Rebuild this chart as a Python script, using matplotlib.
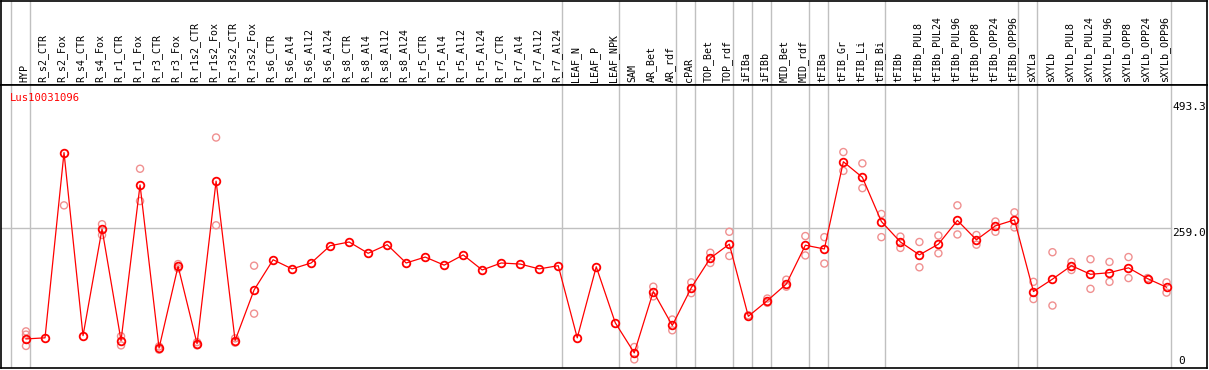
import matplotlib
matplotlib.use('Agg')
import matplotlib.pyplot as plt

gene = "Lus10031096"

samples = ["HYP", "R_s2_CTR", "R_s2_Fox", "R_s4_CTR", "R_s4_Fox", "R_r1_CTR", "R_r1_Fox",
           "R_r3_CTR", "R_r3_Fox", "R_r1s2_CTR", "R_r1s2_Fox", "R_r3s2_CTR", "R_r3s2_Fox",
           "R_s6_CTR", "R_s6_Al4", "R_s6_Al12", "R_s6_Al24", "R_s8_CTR", "R_s8_Al4",
           "R_s8_Al12", "R_s8_Al24", "R_r5_CTR", "R_r5_Al4", "R_r5_Al12", "R_r5_Al24",
           "R_r7_CTR", "R_r7_Al4", "R_r7_Al12", "R_r7_Al24", "LEAF_N", "LEAF_P", "LEAF_NPK",
           "SAM", "AR_Bet", "AR_rdf", "cPAR", "TOP_Bet", "TOP_rdf", "iFIBa", "iFIBb",
           "MID_Bet", "MID_rdf", "tFIBa", "tFIB_Gr", "tFIB_Li", "tFIB_Bi", "tFIBb",
           "tFIBb_PUL8", "tFIBb_PUL24", "tFIBb_PUL96", "tFIBb_OPP8", "tFIBb_OPP24",
           "tFIBb_OPP96", "sXYLa", "sXYLb", "sXYLb_PUL8", "sXYLb_PUL24", "sXYLb_PUL96",
           "sXYLb_OPP8", "sXYLb_OPP24", "sXYLb_OPP96"]

means = [53, 55, 399, 59, 257, 50, 339, 36, 188, 44, 346, 50, 144,
         200, 183, 194, 226, 233, 212, 228, 194, 205, 190, 209, 181,
         194, 192, 183, 189, 55, 187, 83, 27, 141, 78, 148, 203, 229,
         95, 124, 155, 227, 220, 382, 353, 271, 233, 209, 229, 273,
         237, 263, 274, 141, 164, 189, 173, 176, 185, 165, 149]

# replicate values: (sample index, value)
rep_idx = [0, 0, 0, 2, 4, 4, 5, 5, 6, 6, 7, 7, 8, 8, 9, 9, 10, 10, 11, 11, 12, 12,
           32, 32, 33, 33, 34, 34, 35, 35, 36, 36, 37, 37, 38, 39, 39, 40, 40,
           41, 41, 42, 42, 43, 43, 44, 44, 45, 45, 46, 46, 47, 47, 48, 48,
           49, 49, 50, 50, 51, 51, 52, 52, 53, 53, 54, 54, 55, 55, 56, 56,
           57, 57, 58, 58, 59, 60, 60]
rep_val = [67, 61, 40, 301, 266, 246, 58, 41, 369, 309, 39, 33, 192, 184, 47, 41, 427, 264, 54, 46, 189, 100,
           38, 15, 150, 132, 89, 69, 158, 138, 213, 194, 252, 207, 97, 128, 120, 163, 150,
           244, 208, 242, 193, 400, 365, 379, 333, 285, 242, 243, 222, 233, 186, 245, 212,
           301, 247, 246, 228, 271, 252, 288, 260, 159, 127, 214, 115, 196, 181, 201, 146,
           196, 159, 205, 166, 166, 158, 139]

group_ends = [-1, 0, 28, 31, 34, 35, 37, 38, 39, 41, 42, 45, 52, 53, 60]
y_ticks = [0, 259.0, 493.3]

grid_c = '#c0c0c0'
mono = 'DejaVu Sans Mono'
W, H = 1209, 370
x = list(range(len(samples)))
xlim = (-1.315, 62.13)

fig = plt.figure(figsize=(W / 100, H / 100), dpi=100)
head = fig.add_axes([1 / W, (H - 85) / H, 1206 / W, 84.5 / H])
ax = fig.add_axes([1 / W, 2 / H, 1206 / W, 283 / H])

for a in (head, ax):
    a.set_xlim(*xlim)
    a.set_xticks([])
    a.set_yticks([])
    for s in a.spines.values():
        s.set_linewidth(1.2)
        s.set_color('black')
    for g in group_ends:
        a.axvline(g + 0.21, color=grid_c, lw=1.0, zorder=0)

head.set_ylim(0, 1)
for xi, lab in zip(x, samples):
    head.text(xi - 0.1, 0.03, lab, rotation=90, ha='center', va='bottom',
              family=mono, fontsize=7.2)

ax.set_ylim(-1, 524.5)
ax.axhline(y_ticks[1], xmax=0.97, color=grid_c, lw=1.0, zorder=0)

ax.scatter(rep_idx, rep_val, s=26, facecolors='none', edgecolors='#f09090',
           linewidths=1.0, zorder=2)
ax.plot(x, means, color='red', lw=0.9, zorder=3)
ax.plot(x, means, 'o', ms=5.5, mfc='none', mec='red', mew=1.3, zorder=4)

ytrans = ax.get_yaxis_transform()
ax.text(0.971, y_ticks[2], f"{y_ticks[2]:.1f}", transform=ytrans,
        ha='left', va='top', family=mono, fontsize=8)
ax.text(0.971, y_ticks[1], f"{y_ticks[1]:.1f}", transform=ytrans,
        ha='left', va='top', family=mono, fontsize=8)
ax.text(0.976, y_ticks[0] + 2, "0", transform=ytrans,
        ha='left', va='bottom', family=mono, fontsize=8)

ax.text(0.007, 0.955, gene, transform=ax.transAxes, ha='left', va='center',
        color='red', family=mono, fontsize=7.6)

plt.savefig('out.png', dpi=100)
plt.close()
